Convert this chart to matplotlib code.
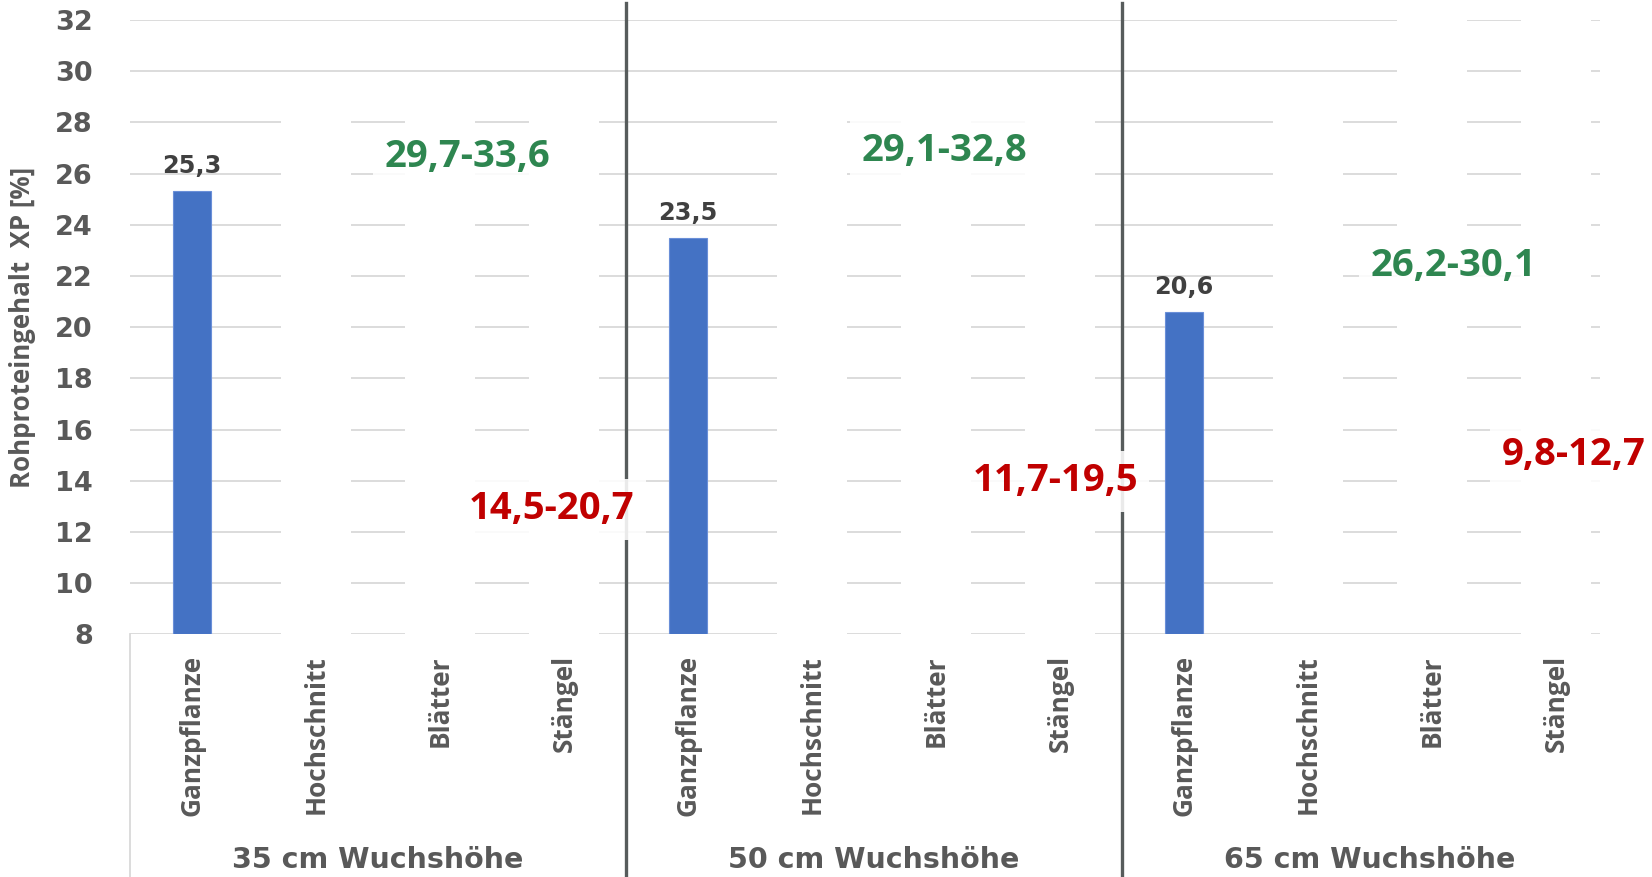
import matplotlib
matplotlib.use("Agg")
import matplotlib.pyplot as plt
from matplotlib.patches import Rectangle
import matplotlib.transforms as mtransforms

# --- data ---------------------------------------------------------------
groups = ["35 cm Wuchshöhe", "50 cm Wuchshöhe", "65 cm Wuchshöhe"]
parts = ["Ganzpflanze", "Hochschnitt", "Blätter", "Stängel"]
ganzpflanze = [25.3, 23.5, 20.6]
blaetter_lo = [29.7, 29.1, 26.2]
blaetter_hi = [33.6, 32.8, 30.1]
staengel_lo = [14.5, 11.7, 9.8]
staengel_hi = [20.7, 19.5, 12.7]
y_ticks = list(range(8, 33, 2))
y_label = "Rohproteingehalt  XP [%]"

# --- layout -------------------------------------------------------------
W, H, DPI = 1652, 877, 100
# label anchor (offset from the group's first category, y value)
leaf_pos = [(2.22, 26.64), (2.07, 26.88), (2.17, 22.40)]
stem_pos = [(2.90, 12.89), (2.96, 13.97), (3.14, 15.00)]
# white masking strips over the gridlines: (group, slot, bottom, top)
masks = [
    (0, 1, 7.9, 29.0), (0, 2, 7.9, 29.0), (0, 3, 7.9, 29.0),
    (1, 1, 7.9, 29.0), (1, 2, 7.9, 29.0), (1, 3, 7.9, 29.0),
    (2, 1, 8.1, 29.0), (2, 2, 8.1, 33.0), (2, 3, 7.9, 33.0),
]

GRID = "#d9d9d9"
TXT = "#595959"
BAR = "#4472C4"
GREEN = "#2e8650"
RED = "#c00000"
LABEL_FONT = "Open Sans"

fig = plt.figure(figsize=(W / DPI, H / DPI), dpi=DPI)
ax_left, ax_right = 130 / W, 1600 / W
ax_bottom, ax_top = (H - 634.3) / H, (H - 20) / H
ax = fig.add_axes([ax_left, ax_bottom, ax_right - ax_left, ax_top - ax_bottom])

n_parts = len(parts)
ax.set_xlim(-0.5, -0.5 + (1600 - 130) / 124.0)
ax.set_ylim(8, 32)

# gridlines
ax.set_axisbelow(True)
ax.set_yticks(y_ticks)
ax.yaxis.grid(True, color=GRID, linewidth=1.3)
ax.set_xticks([])
for s in ax.spines.values():
    s.set_visible(False)
ax.tick_params(axis="y", length=0, pad=26.9)
for lab in ax.get_yticklabels():
    lab.set_fontfamily("DejaVu Sans")
    lab.set_fontweight("bold")
    lab.set_fontsize(19.5)
    lab.set_color(TXT)

# masking strips
for g, slot, b, t in masks:
    xc = g * n_parts + slot
    ax.add_patch(Rectangle((xc - 0.28, b), 0.56, t - b, facecolor="white",
                           edgecolor="none", zorder=1.5, clip_on=False))

# bars
bar_x = [g * n_parts for g in range(len(groups))]
ax.bar(bar_x, [v - 8 for v in ganzpflanze], bottom=8, width=0.306,
       color=BAR, edgecolor="#6a8fd8", linewidth=0.8, zorder=2)
for x, v in zip(bar_x, ganzpflanze):
    ax.annotate(f"{v:.1f}".replace(".", ","), (x, v), xytext=(0, 18),
                textcoords="offset points", ha="center", va="center",
                fontfamily="DejaVu Sans", fontweight="bold", fontsize=17.3,
                color="#404040", zorder=3)

# left category axis line and group separators
ax.axvline(-0.5, ymin=-0.42, ymax=0, color=GRID, linewidth=1.3, clip_on=False)
for g in range(1, len(groups)):
    ax.axvline(g * n_parts - 0.5, ymin=-0.42, ymax=1.028, color="#575c5c",
               linewidth=2.4, clip_on=False, zorder=2.2)

# range labels
def fmt(lo, hi):
    return f"{lo:.1f}-{hi:.1f}".replace(".", ",")

box = dict(boxstyle="square,pad=0.3", facecolor="white", edgecolor="none",
           alpha=0.88)
for g in range(len(groups)):
    x0 = g * n_parts
    lx, ly = leaf_pos[g]
    ax.text(x0 + lx, ly, fmt(blaetter_lo[g], blaetter_hi[g]), ha="center",
            va="center", fontfamily=LABEL_FONT, fontweight="bold",
            fontsize=27.5, color=GREEN, bbox=box, zorder=4, clip_on=False)
    sx, sy = stem_pos[g]
    ax.text(x0 + sx, sy, fmt(staengel_lo[g], staengel_hi[g]), ha="center",
            va="center", fontfamily=LABEL_FONT, fontweight="bold",
            fontsize=27.5, color=RED, bbox=box, zorder=4, clip_on=False)

# category labels and group labels
trans = mtransforms.blended_transform_factory(ax.transData, ax.transAxes)
for g, name in enumerate(groups):
    for p, part in enumerate(parts):
        ax.text(g * n_parts + p, -0.0337, part, transform=trans, rotation=90,
                ha="center", va="top", fontfamily=LABEL_FONT,
                fontweight="bold", fontsize=18.9, color=TXT)
    ax.text(g * n_parts + (n_parts - 1) / 2, -0.367, name, transform=trans,
            ha="center", va="center", fontfamily="DejaVu Sans",
            fontweight="bold", fontsize=20.5, color=TXT)

fig.text(23 / W, 1 - 327 / H, y_label, rotation=90, ha="center", va="center",
         fontfamily=LABEL_FONT, fontweight="bold", fontsize=18.6, color=TXT)

fig.savefig("out.png", dpi=DPI, facecolor="white")
